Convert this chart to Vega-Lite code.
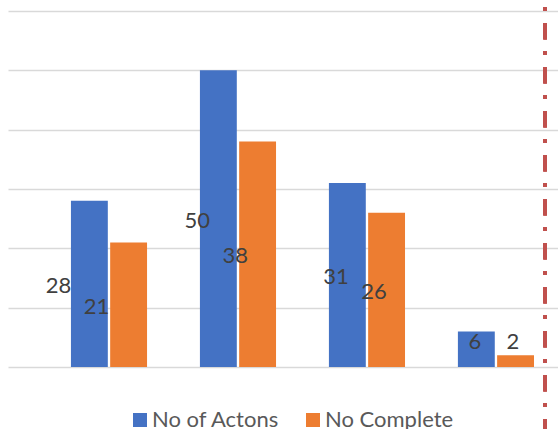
{
  "$schema": "https://vega.github.io/schema/vega-lite/v6.json",
  "width": 550,
  "height": 356,
  "autosize": {"type": "none"},
  "padding": {"left": 8, "top": 11, "right": 0, "bottom": 62},
  "background": "white",
  "config": {"view": {"stroke": null}, "font": "Lato"},
  "data": {
    "values": [
      {"group": "G1", "series": "No of Actons", "value": 28},
      {"group": "G1", "series": "No Complete", "value": 21},
      {"group": "G2", "series": "No of Actons", "value": 50},
      {"group": "G2", "series": "No Complete", "value": 38},
      {"group": "G3", "series": "No of Actons", "value": 31},
      {"group": "G3", "series": "No Complete", "value": 26},
      {"group": "G4", "series": "No of Actons", "value": 6},
      {"group": "G4", "series": "No Complete", "value": 2}
    ]
  },
  "layer": [
    {
      "mark": {"type": "bar"},
      "encoding": {
        "x": {
          "field": "group", "type": "nominal", "axis": null,
          "scale": {"paddingInner": 0.41, "paddingOuter": 0.337, "align": 0.724}
        },
        "xOffset": {
          "field": "series", "type": "nominal",
          "sort": ["No of Actons", "No Complete"],
          "scale": {"paddingInner": 0.06}
        },
        "y": {
          "field": "value", "type": "quantitative",
          "scale": {"domain": [0, 60]},
          "axis": {
            "values": [0, 10, 20, 30, 40, 50, 60],
            "labels": false, "ticks": false, "domain": false,
            "grid": true, "gridColor": "#d9d9d9", "gridWidth": 1.5,
            "title": null
          }
        },
        "color": {
          "field": "series", "type": "nominal",
          "sort": ["No of Actons", "No Complete"],
          "scale": {"range": ["#4472C4", "#ED7D31"]},
          "legend": {
            "title": null,
            "orient": "none",
            "legendX": 121,
            "legendY": 398,
            "direction": "horizontal",
            "symbolType": "square",
            "symbolSize": 196,
            "symbolStrokeWidth": 0,
            "labelFont": "Lato",
            "labelFontSize": 22,
            "labelColor": "#595959",
            "labelOffset": 1,
            "columnPadding": 22,
            "labelLimit": 300
          }
        }
      }
    },
    {
      "transform": [
        {"calculate": "max(datum.value / 2, 4.5)", "as": "labelPos"}
      ],
      "mark": {"type": "text", "fontSize": 22, "color": "#404040", "baseline": "middle", "align": "center", "dy": 2},
      "encoding": {
        "x": {
          "field": "group", "type": "nominal", "axis": null,
          "scale": {"paddingInner": 0.4524, "paddingOuter": 0.2075, "align": 0.547}
        },
        "xOffset": {
          "field": "series", "type": "nominal",
          "sort": ["No of Actons", "No Complete"],
          "scale": {"paddingInner": 0.06}
        },
        "y": {"field": "labelPos", "type": "quantitative"},
        "text": {"field": "value", "type": "quantitative"}
      }
    },
    {
      "mark": {
        "type": "rule", "color": "#C0504D", "strokeWidth": 3.5,
        "strokeDash": [16, 12, 3.5, 12.5], "strokeDashOffset": 20
      },
      "encoding": {
        "x": {"datum": 0.9765, "type": "quantitative", "scale": {"domain": [0, 1]}, "axis": null},
        "y": {"datum": 62},
        "y2": {"datum": -11}
      }
    }
  ],
  "resolve": {"scale": {"x": "independent", "xOffset": "independent"}}
}
